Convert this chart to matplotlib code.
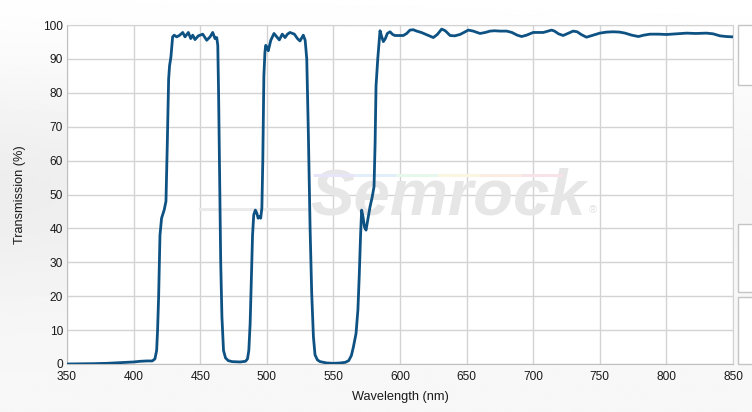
import numpy as np
import matplotlib
matplotlib.use("Agg")
import matplotlib.pyplot as plt
from matplotlib.patches import Rectangle

# Transmission spectrum
wavelength = [
    350, 360, 370, 380, 390, 395, 400, 405, 410, 414, 416, 417.3, 418, 418.8,
    419.8, 421, 423, 424.3, 425.3, 426.3, 427, 428, 429.3, 430.5, 432.3, 434.3,
    436.9, 438.6, 441.1, 442.9, 444.4, 446.1, 448.6, 451.9, 454.9, 457.4, 459.4,
    461.1, 462.4, 463.2, 463.8, 464.6, 465.4, 466.3, 467.5, 469, 471, 474, 480,
    484, 485.5, 486.5, 487.5, 488.4, 489.3, 490.2, 491.4, 492.5, 493.5, 494.5,
    495.4, 496.3, 497, 497.8, 498.6, 499.2, 500, 501.1, 503, 505.4, 507.5, 509.4,
    511.6, 513.7, 515.5, 517.4, 520.7, 523, 524.9, 527.4, 528.8, 530, 531.2,
    532.5, 533.7, 535, 536.2, 538, 540, 545, 550, 555, 559, 561.5, 563.5, 565,
    567, 568.4, 569.4, 570.4, 571.2, 572.2, 573.3, 574.5, 575.8, 577.5, 579,
    580.5, 581.3, 582, 583.3, 585, 586.3, 587.5, 589, 590.5, 592.5, 594.5, 596.2,
    600, 602.5, 605, 607.5, 610, 612.5, 616, 621.3, 625, 628, 631.3, 634, 637.6,
    641, 645, 648, 651.3, 655, 660.1, 664, 667.6, 671, 675, 680.1, 684, 688,
    691.3, 695, 700, 704, 707.6, 711, 713.8, 716, 719, 722.5, 726, 730, 733, 736,
    740, 745, 750, 755, 760.2, 765, 769, 774, 779, 783, 787.7, 794, 800.2, 808,
    815.2, 822, 830.2, 835, 840.2, 845, 849.8,
]
transmission = [
    0.0, 0.05, 0.1, 0.2, 0.4, 0.5, 0.6, 0.8, 0.9, 0.9, 1.5, 4, 10, 20,
    38, 43, 45.5, 48, 65, 84, 88, 90.5, 96.5, 97, 96.5, 96.9,
    97.8, 96.5, 97.8, 96.0, 97.0, 95.7, 96.8, 97.3, 95.5, 96.5, 97.8,
    96.0, 96.3, 94, 80, 55, 30, 14, 4, 1.8, 1.0, 0.7, 0.6,
    0.8, 1.5, 4, 12, 25, 38, 44, 45.4, 44.5, 43, 43.5,
    43, 46, 60, 85, 92, 94, 93.5, 92.4, 95.5, 97.5, 96.5, 95.6,
    97.3, 96.3, 97.3, 97.8, 97.3, 96, 95.3, 97, 95.5, 90, 68,
    40, 21, 8, 2.7, 1.2, 0.7, 0.3, 0.2, 0.3, 0.5, 1.0, 2.5, 5,
    9, 16, 26, 38, 45.4, 43.5, 40.5, 39.5, 42.5, 46.4, 49,
    52.3, 65, 82, 90, 98.3, 96.5, 95.1, 96, 97.5, 98, 97.2, 96.9,
    96.9, 96.9, 97.5, 98.5, 98.6, 98.2, 97.8, 96.9, 96.3, 97.2, 98.8, 98.3, 96.9,
    96.8, 97.2, 97.8, 98.5, 98.2, 97.5, 97.8, 98.2, 98.3, 98.2, 98.2, 97.8, 97.0,
    96.6, 97.0, 97.8, 97.8, 97.8, 98.2, 98.5, 98.2, 97.4, 96.9, 97.5, 98.2, 98.0, 97.2,
    96.4, 97.0, 97.6, 97.9, 98.0, 97.9, 97.6, 97.0, 96.6, 97.0, 97.3, 97.3, 97.2, 97.4,
    97.6, 97.5, 97.6, 97.4, 96.8, 96.6, 96.5,
]
x_ticks = [350, 400, 450, 500, 550, 600, 650, 700, 750, 800, 850]
y_ticks = [0, 10, 20, 30, 40, 50, 60, 70, 80, 90, 100]

plt.rcParams['font.family'] = ['Liberation Sans', 'DejaVu Sans']

fig = plt.figure(figsize=(7.52, 4.12), dpi=100)

# soft grey page background
bg = fig.add_axes([0, 0, 1, 1], zorder=-10)
yy, xx = np.mgrid[0:1:200j, 0:1:200j]
shade = 1.0 - 0.055 * np.exp(-((yy - 0.45) ** 2) / 0.08) * (1 - 0.6 * xx) - 0.03 * yy
bg.imshow(shade, cmap='gray', vmin=0, vmax=1, aspect='auto', extent=[0, 1, 0, 1])
bg.axis('off')

# clipped side panels at right edge
for y0, y1 in [(25, 85), (224, 292), (297, 364)]:
    fig.patches.append(Rectangle((738 / 752, 1 - y1 / 412), 0.03, (y1 - y0) / 412,
                                 transform=fig.transFigure, facecolor='white',
                                 edgecolor='#c4c4c4', linewidth=1))

ax = fig.add_axes([67 / 752, 48 / 412, 666 / 752, 339 / 412])
ax.set_facecolor('white')

# watermark
ax.text(636, 49, 'Semrock', fontsize=47, fontweight='bold', style='italic',
        color='#e6e6e6', ha='center', va='center', zorder=1)
ax.text(745, 45.5, '®', fontsize=8, color='#e0e0e0', ha='center', va='center', zorder=1)
rainbow = ['#e6e6f8', '#e2eefa', '#e6f8ec', '#faf7e0', '#faece0', '#f7e4e8']
edges = np.linspace(535, 722, len(rainbow) + 1)
for c, a, b in zip(rainbow, edges[:-1], edges[1:]):
    ax.plot([a, b], [55.8, 55.8], color=c, lw=2.2, zorder=1, solid_capstyle='butt')
ax.plot([450, 530], [45.8, 45.8], color='#ebebeb', lw=2.2, zorder=1)

ax.plot(wavelength, transmission, color='#0e5283', lw=2, zorder=3,
        solid_joinstyle='round')

ax.set_xlim(350, 850)
ax.set_ylim(0, 100)
ax.set_xticks(x_ticks)
ax.set_yticks(y_ticks)
ax.grid(True, color='#d3d3d3', lw=1)
ax.set_axisbelow(True)
ax.tick_params(length=0, labelsize=8.6, labelcolor='#1a1a1a')
ax.tick_params(axis='x', pad=5)
ax.tick_params(axis='y', pad=3)
for s in ax.spines.values():
    s.set_color('#d3d3d3')
ax.spines['left'].set_color('#c0c0c0')
ax.spines['bottom'].set_color('#c0c0c0')

ax.set_xlabel('Wavelength (nm)', fontsize=9.2, color='#1a1a1a', labelpad=6)
ax.set_ylabel('Transmission (%)', fontsize=9.2, color='#1a1a1a', labelpad=12)

fig.savefig('out.png', dpi=100)
